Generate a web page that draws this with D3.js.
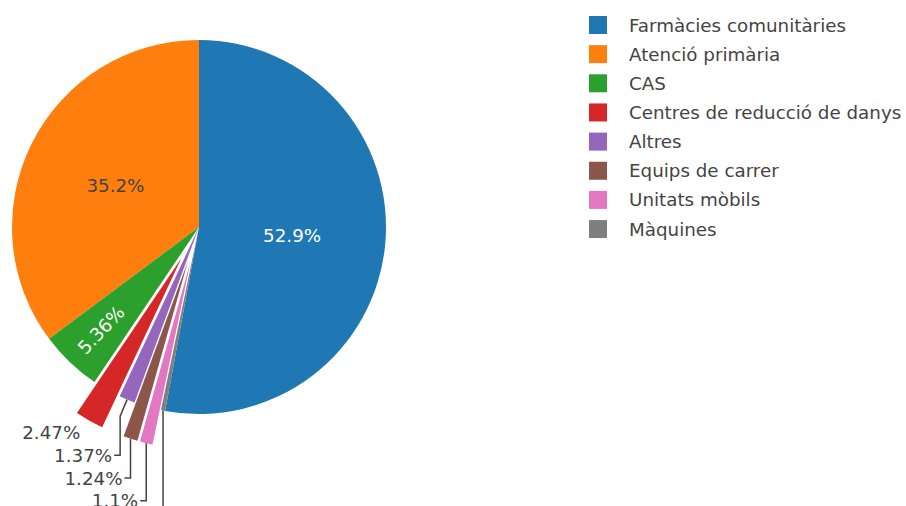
<!DOCTYPE html>
<html>
<head>
<meta charset="utf-8">
<script src="https://cdn.jsdelivr.net/npm/d3@7"></script>
<style>
  body { margin: 0; background: #fff; }
  #chart { width: 906px; height: 506px; overflow: hidden; }
  text { font-family: "DejaVu Sans", Verdana, sans-serif; }
</style>
</head>
<body>
<div id="chart"></div>
<script>
// data
const categories = ["Farmàcies comunitàries", "Atenció primària", "CAS",
    "Centres de reducció de danys", "Altres", "Equips de carrer", "Unitats mòbils", "Màquines"];
const values = [52.9, 35.2, 5.36, 2.47, 1.37, 1.24, 1.1, 0.36];

// style: how far each slice is pulled out (fraction of radius) and leader elbows
const pull = [0, 0, 0, 0.19, 0, 0.19, 0.19, 0];
const leaderStep = [0, 0, 0, 0, 18, 0, 0, 0];

const width = 906, height = 506;
const cx = 199, cy = 227, radius = 187;
const fontSize = 18.3;
const color = d3.scaleOrdinal().domain(categories).range(d3.schemeCategory10);
const fmt = d3.format(".3~r");

const svg = d3.select("#chart").append("svg")
    .attr("width", width)
    .attr("height", height);

const total = d3.sum(values);
const start = 2 * Math.PI * values[0] / total;

// first slice runs clockwise from 12 o'clock, the rest follow counterclockwise
const pie = d3.pie()
    .sort(null)
    .value(d => d)
    .startAngle(start)
    .endAngle(start - 2 * Math.PI);

const arcs = pie(values).map((d, i) => {
    let mid = (d.startAngle + d.endAngle) / 2;
    let off = pull[i] * radius;
    return {
        ...d, i: i, mid: mid,
        dx: Math.sin(mid) * off,
        dy: -Math.cos(mid) * off,
        pct: d.value / total * 100
    };
});

const arc = d3.arc().innerRadius(0).outerRadius(radius);

const g = svg.append("g")
    .attr("transform", "translate(" + cx + "," + cy + ")");

g.selectAll("path.slice")
    .data(arcs)
    .join("path")
    .attr("class", "slice")
    .attr("transform", d => "translate(" + d.dx + "," + d.dy + ")")
    .attr("d", arc)
    .attr("fill", d => color(categories[d.i]));

// inside labels
let inside = arcs.filter(d => d.pct > 5);
inside.forEach(d => {
    let big = d.pct > 20;
    let r = big ? radius * 0.5 : radius * 0.76;
    let x = d.dx + Math.sin(d.mid) * r;
    let y = d.dy - Math.cos(d.mid) * r;
    let rot = 0;
    if (!big) {
        // radial text
        rot = d.mid * 180 / Math.PI - 90;
        while (rot > 90) rot -= 180;
        while (rot < -90) rot += 180;
    }
    g.append("text")
        .attr("transform", "translate(" + x + "," + y + ") rotate(" + rot + ")")
        .attr("text-anchor", "middle")
        .attr("dy", "0.36em")
        .attr("font-size", fontSize)
        .attr("fill", d.i === 1 ? "#444" : "#fff")
        .text(fmt(d.pct) + "%");
});

// outside labels with leader lines
let outside = arcs.filter(d => d.pct <= 5);
let prevY = null;
outside.forEach(d => {
    let ox = d.dx + Math.sin(d.mid) * radius;
    let oy = d.dy - Math.cos(d.mid) * radius;
    let naturalY = oy + 12;
    let ly = naturalY;
    if (prevY !== null && ly < prevY + 22.7) ly = prevY + 22.7;

    let tx = ox - 9;
    if (ly !== naturalY) {
        let s = leaderStep[d.i];
        let ex = ox + Math.sin(d.mid) * s;
        let ey = oy - Math.cos(d.mid) * s;
        let path = d3.path();
        path.moveTo(ox, oy);
        path.lineTo(ex, ey);
        path.lineTo(ex, ly);
        path.lineTo(ex - 6, ly);
        g.append("path")
            .attr("d", path.toString())
            .attr("fill", "none")
            .attr("stroke", "#444")
            .attr("stroke-width", 1.5);
        tx = ex - 8;
    }
    g.append("text")
        .attr("x", tx)
        .attr("y", ly)
        .attr("dy", "0.36em")
        .attr("text-anchor", "end")
        .attr("font-size", fontSize)
        .attr("fill", "#444")
        .text(fmt(d.pct) + "%");
    prevY = ly;
});

// legend
const legend = svg.append("g")
    .attr("transform", "translate(589,25)");

const rows = legend.selectAll("g.item")
    .data(categories)
    .join("g")
    .attr("class", "item")
    .attr("transform", (d, i) => "translate(0," + (i * 29.15) + ")");

rows.append("rect")
    .attr("x", 0)
    .attr("y", -9)
    .attr("width", 18)
    .attr("height", 18)
    .attr("fill", d => color(d));

rows.append("text")
    .attr("x", 40)
    .attr("dy", "0.36em")
    .attr("font-size", fontSize)
    .attr("fill", "#444")
    .text(d => d);
</script>
</body>
</html>
